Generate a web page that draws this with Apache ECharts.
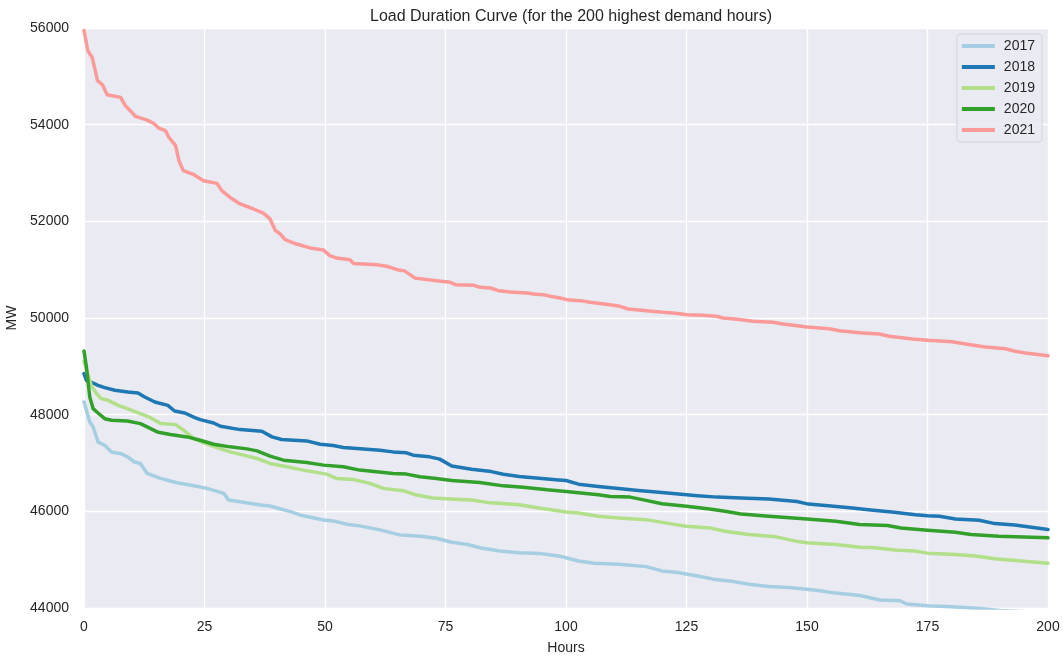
<!DOCTYPE html>
<html>
<head>
<meta charset="utf-8">
<script src="https://cdn.jsdelivr.net/npm/echarts@6/dist/echarts.min.js"></script>
<style>
  html, body { margin: 0; padding: 0; background: #ffffff; }
  #chart { width: 1063px; height: 658px; }
</style>
</head>
<body>
<div id="chart"></div>
<script>
const titleText = 'Load Duration Curve (for the 200 highest demand hours)';
const years = ['2017', '2018', '2019', '2020', '2021'];
const colors = ['#a6cee3', '#1f78b4', '#b2df8a', '#33a02c', '#fb9a99'];

// [hour, MW] pairs
const load2017 = [[0,48262],[0.5,48090],[1.2,47848],[1.9,47745],[2.9,47434],[4.3,47365],[5.7,47227],[7.7,47193],[9.1,47124],[10.5,47020],[11.7,46990],[13.1,46784],[15.9,46681],[19.3,46592],[22.8,46530],[25.5,46475],[29,46372],[30,46234],[32.4,46200],[36.6,46131],[38.6,46110],[42.8,45994],[44.8,45925],[49.7,45822],[51.7,45802],[54.5,45733],[57.2,45699],[61.4,45616],[65.5,45513],[68.3,45493],[70.3,45479],[73.1,45444],[76.3,45360],[79.6,45315],[82.1,45246],[86.2,45178],[90.3,45143],[94.4,45130],[98.5,45075],[100,45041],[102.6,44972],[105.9,44924],[110.9,44904],[116.6,44856],[119.9,44767],[123.2,44733],[127.3,44664],[130.6,44596],[133.9,44561],[138,44493],[142.1,44445],[146.2,44424],[150,44390],[152.7,44356],[156,44308],[161,44260],[165.1,44165],[169.3,44150],[170.7,44082],[175,44047],[180,44027],[185.2,43993],[190,43950],[200,43900]];
const load2018 = [[0,48850],[0.5,48711],[1.9,48655],[2.9,48607],[4.3,48559],[6.4,48504],[9.1,48469],[11.2,48448],[12.6,48366],[14.7,48262],[17.4,48193],[18.8,48076],[20.9,48035],[23,47938],[24.1,47897],[26.9,47828],[28.3,47760],[32.4,47691],[36.9,47656],[39,47540],[41,47485],[46.2,47457],[49,47389],[51.7,47361],[53.8,47320],[61.4,47265],[64.1,47230],[66.9,47210],[68.3,47162],[71.7,47127],[73.8,47080],[76.3,46938],[80.4,46870],[84.5,46822],[87,46767],[90.3,46719],[94.4,46685],[98.5,46650],[100,46637],[102.6,46562],[106.7,46514],[110.9,46472],[115,46431],[119.9,46390],[125,46342],[127.3,46322],[131.4,46294],[136.3,46274],[142.1,46253],[147.9,46205],[150.3,46150],[154.4,46116],[159.4,46068],[162.7,46034],[167.6,45986],[172.5,45931],[175,45911],[177.5,45897],[180.8,45842],[185.7,45815],[189,45746],[193.1,45719],[200,45623]];
const load2019 = [[0,49100],[1.5,48607],[2.6,48435],[3.6,48331],[5,48297],[7.1,48193],[9,48124],[11.7,48021],[13.8,47938],[15.9,47815],[19,47794],[20.7,47677],[22.8,47505],[24.8,47416],[27.6,47320],[30.3,47231],[33.1,47162],[35.9,47093],[38.6,46990],[42.1,46921],[45.5,46853],[50.3,46770],[52.4,46681],[55.9,46660],[59.3,46578],[62.1,46475],[66.2,46427],[69,46337],[72.4,46274],[77.9,46245],[80.4,46235],[83.7,46185],[90.3,46137],[94.4,46068],[100,45986],[102.6,45966],[106.7,45897],[110.9,45863],[116.6,45828],[121.5,45746],[125,45692],[129.8,45657],[133,45589],[137.9,45520],[143.6,45472],[147.7,45383],[150,45349],[156,45315],[161,45255],[164.1,45246],[168.2,45198],[172.3,45178],[175,45135],[180.8,45109],[184.9,45075],[189,45020],[200,44928]];
const load2020 = [[0,49318],[0.5,48987],[1.2,48366],[1.9,48124],[2.9,48035],[4.3,47917],[5.7,47883],[9,47869],[11.7,47815],[13.1,47746],[15.2,47643],[17.9,47588],[21.4,47540],[24.1,47471],[26.9,47389],[30.3,47334],[33.8,47292],[35.9,47251],[38.6,47141],[41.4,47059],[46.2,47011],[49.7,46956],[53.8,46921],[57.2,46853],[60.7,46818],[64.1,46784],[66.9,46770],[69.7,46715],[73.1,46681],[76.3,46637],[82.1,46596],[87,46527],[91.1,46500],[96.1,46445],[100,46411],[106.7,46342],[109.2,46308],[113.3,46294],[116.6,46226],[119.9,46157],[125,46103],[129.8,46048],[133,46000],[136.3,45945],[142.1,45897],[150,45842],[156,45794],[160.9,45726],[166.7,45705],[169.5,45657],[175,45609],[180.8,45568],[184,45520],[189.8,45486],[200,45452]];
const load2021 = [[0,55950],[0.8,55530],[1.7,55390],[2.8,54910],[3.8,54830],[4.8,54620],[7.6,54565],[8.6,54390],[9.6,54290],[10.7,54170],[13.1,54095],[14.5,54025],[15.5,53930],[16.9,53875],[17.6,53740],[19,53565],[19.7,53255],[20.6,53050],[22.8,52965],[24.8,52840],[27.6,52785],[28.6,52635],[30.3,52495],[32.4,52360],[35.2,52255],[37.2,52170],[38.6,52050],[39.7,51810],[40.7,51740],[41.7,51620],[44.1,51530],[46.9,51450],[49.7,51405],[51,51290],[52.4,51240],[55.2,51205],[55.9,51130],[60.7,51100],[62.8,51070],[65,51000],[66.5,50975],[68.7,50825],[74,50760],[76,50738],[77.1,50690],[80.9,50676],[82.2,50635],[84.3,50621],[86,50566],[88.4,50538],[91.9,50518],[93.3,50497],[95.3,50483],[96.7,50449],[98.8,50414],[100.2,50380],[102.9,50359],[105,50324],[109.1,50276],[111.2,50242],[112.9,50186],[116.7,50152],[119.5,50124],[122.2,50104],[125.2,50069],[128.4,50055],[131.2,50035],[132.6,50000],[136,49970],[138.8,49931],[142.9,49910],[145,49876],[150,49814],[154.6,49779],[156.7,49738],[161.5,49690],[165,49669],[167,49621],[171.9,49565],[175.1,49538],[180.1,49510],[182.9,49462],[187,49400],[191.2,49365],[193.2,49310],[195.3,49276],[200,49220]];
const seriesData = [load2017, load2018, load2019, load2020, load2021];

const xTicks = { min: 0, max: 200, interval: 25 };
const yTicks = { min: 44000, max: 56000, interval: 2000 };

const FONT = '"Liberation Sans", Arial, sans-serif';
const TXT = '#262626';

const chart = echarts.init(document.getElementById('chart'), null, { renderer: 'canvas' });
chart.setOption({
  animation: false,
  backgroundColor: '#ffffff',
  title: {
    text: titleText,
    left: 566, textAlign: 'center', top: 4,
    textStyle: { fontFamily: FONT, fontSize: 16, fontWeight: 'normal', color: TXT }
  },
  grid: {
    left: 84, right: 15, top: 28, bottom: 50,
    show: true, backgroundColor: '#EAEAF2', borderWidth: 0,
    containLabel: false, outerBoundsMode: 'none'
  },
  legend: {
    data: years,
    orient: 'vertical',
    right: 21, top: 34,
    padding: [5, 7, 5, 5],
    itemWidth: 33, itemHeight: 4, itemGap: 7,
    icon: 'rect',
    backgroundColor: 'rgba(234,234,242,0.8)',
    borderColor: '#d4d4dc', borderWidth: 1, borderRadius: 3,
    textStyle: { fontFamily: FONT, fontSize: 14, color: TXT, lineHeight: 14, padding: [0, 0, 0, 4] }
  },
  xAxis: {
    type: 'value', min: xTicks.min, max: xTicks.max, interval: xTicks.interval,
    name: 'Hours', nameLocation: 'middle', nameGap: 33,
    nameTextStyle: { fontFamily: FONT, fontSize: 14, color: TXT },
    axisLine: { show: false }, axisTick: { show: false },
    axisLabel: { fontFamily: FONT, fontSize: 14, color: TXT, margin: 12 },
    splitLine: { show: true, lineStyle: { color: '#ffffff', width: 1.3 } }
  },
  yAxis: {
    type: 'value', min: yTicks.min, max: yTicks.max, interval: yTicks.interval,
    name: 'MW', nameLocation: 'middle', nameGap: 59, nameRotate: 90,
    nameTextStyle: { fontFamily: FONT, fontSize: 14, color: TXT },
    axisLine: { show: false }, axisTick: { show: false },
    axisLabel: { fontFamily: FONT, fontSize: 14, color: TXT, margin: 15, formatter: (v) => String(v) },
    splitLine: { show: true, lineStyle: { color: '#ffffff', width: 1.3 } }
  },
  series: years.map((y, i) => ({
    name: y,
    type: 'line',
    data: seriesData[i],
    showSymbol: false,
    symbol: 'none',
    clip: true,
    color: colors[i],
    lineStyle: { width: 3.5, color: colors[i], cap: 'round', join: 'round' },
    emphasis: { disabled: true },
    z: 2 + i
  }))
});
</script>
</body>
</html>
